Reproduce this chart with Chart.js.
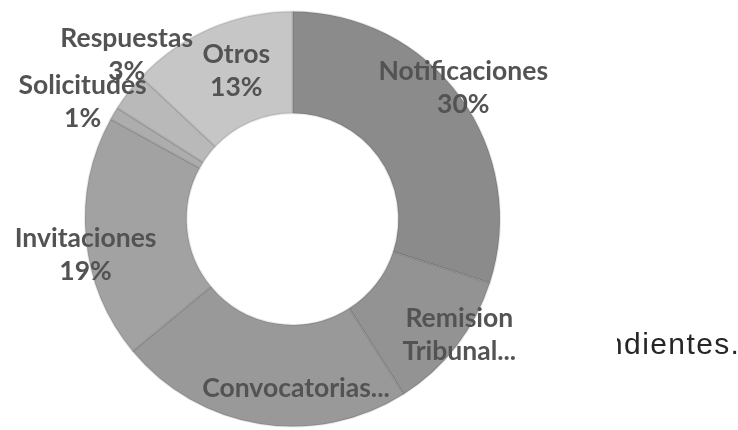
<!DOCTYPE html>
<html>

<head>
    <meta charset="utf-8">
    <script src="https://cdn.jsdelivr.net/npm/chart.js@4.4.1/dist/chart.umd.min.js"></script>
    <style>
        html, body {
            margin: 0;
            padding: 0;
            background: #ffffff;
        }

        #chart-container {
            position: relative;
            width: 738px;
            height: 430px;
        }

        #side-text {
            position: absolute;
            left: 617px;
            top: 327px;
            width: 121px;
            height: 40px;
            overflow: hidden;
        }

        #side-text span {
            position: absolute;
            left: -11px;
            top: 0;
            font-family: "Liberation Sans", Arial, sans-serif;
            font-size: 30px;
            letter-spacing: 1.4px;
            line-height: 34px;
            color: #262626;
            white-space: nowrap;
        }
    </style>
</head>

<body>
    <div id="chart-container">
        <canvas id="myDoughnutChart"></canvas>
        <div id="side-text"><span>ndientes.</span></div>
    </div>

    <script>
        // categories as shown on the chart (multi-line names split into arrays)
        const categories = ['Notificaciones', ['Remision', 'Tribunal...'], 'Convocatorias...', 'Invitaciones', 'Solicitudes', 'Respuestas', 'Otros'];
        const shares = [30, 11, 23, 19, 1, 3, 13];
        const showPercent = [true, false, false, true, true, true, true];

        const sliceColors = ['#8a8b8a', '#939393', '#999999', '#a2a2a2', '#adadad', '#b9b9b9', '#c6c6c6'];
        // label nudges relative to the slice centre, like hand-moved labels in the original
        const labelShift = [[44, -39], [43, 20], [28, 15], [-51, 21], [-75, -37], [-42, -68], [6, -4]];

        const total = shares.reduce((a, b) => a + b, 0);

        const sliceLabels = {
            id: 'sliceLabels',
            afterDatasetsDraw(chart) {
                const c = chart.ctx;
                const meta = chart.getDatasetMeta(0);
                c.save();
                c.font = 'bold 26.5px Lato, "Open Sans", sans-serif';
                c.fillStyle = '#535353';
                c.textAlign = 'center';
                c.textBaseline = 'middle';
                const lineH = 33;
                meta.data.forEach((arc, i) => {
                    const p = arc.tooltipPosition();
                    let lines = Array.isArray(categories[i]) ? categories[i].slice() : [categories[i]];
                    if (showPercent[i]) {
                        lines.push(Math.round(shares[i] / total * 100) + '%');
                    }
                    const x = p.x + labelShift[i][0];
                    const y = p.y + labelShift[i][1] - (lines.length - 1) * lineH / 2;
                    lines.forEach((t, k) => c.fillText(t, x, y + k * lineH));
                });
                c.restore();
            }
        };

        const ctx = document.getElementById('myDoughnutChart').getContext('2d');

        const myDoughnutChart = new Chart(ctx, {
            type: 'doughnut',
            data: {
                labels: categories.map(c => Array.isArray(c) ? c.join(' ') : c),
                datasets: [{
                    data: shares,
                    backgroundColor: sliceColors,
                    borderColor: 'rgba(0,0,0,0.09)',
                    borderWidth: 2
                }]
            },
            options: {
                responsive: true,
                maintainAspectRatio: false,
                animation: false,
                cutout: '51%',
                layout: {
                    padding: { left: 84, right: 237, top: 10, bottom: 2 }
                },
                plugins: {
                    legend: { display: false },
                    tooltip: { enabled: false }
                }
            },
            plugins: [sliceLabels]
        });
    </script>
</body>

</html>
